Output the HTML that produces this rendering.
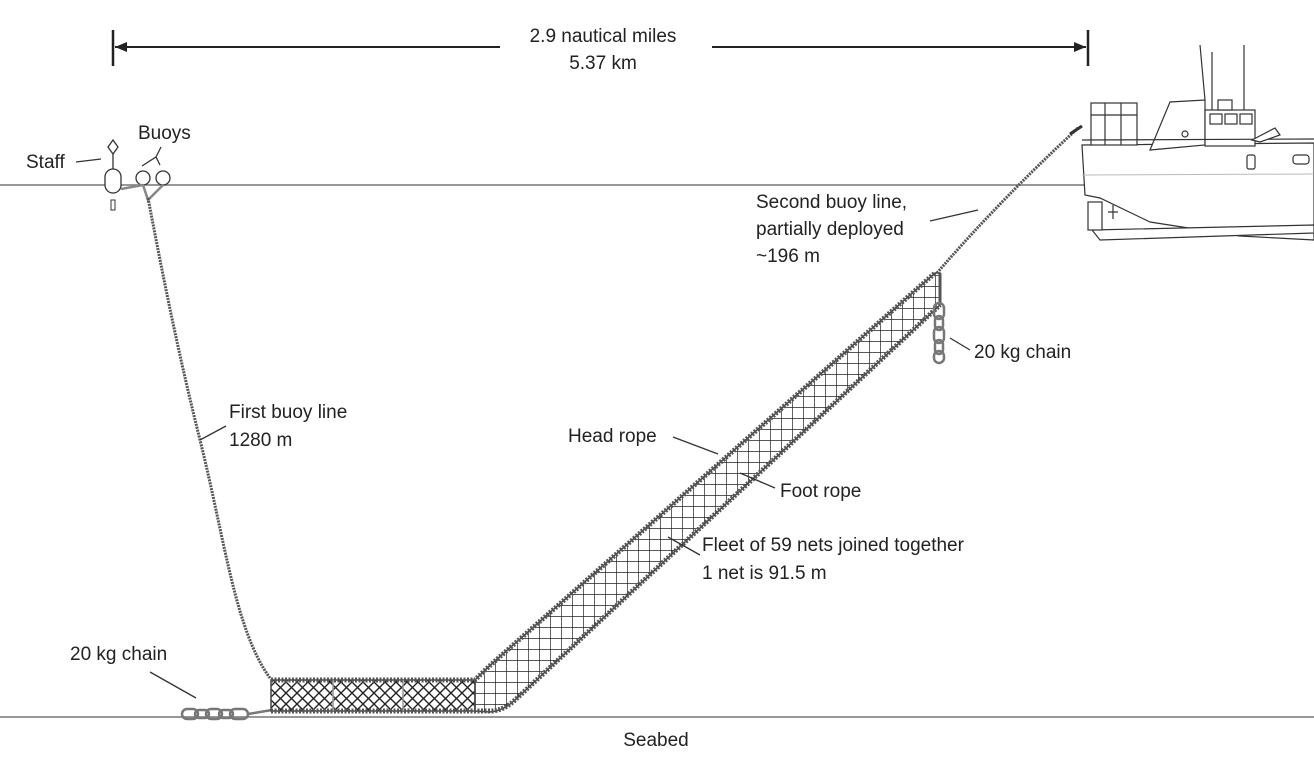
<!DOCTYPE html>
<html><head><meta charset="utf-8"><style>
html,body{margin:0;padding:0;background:#fff;}
svg{display:block}
text{font-family:"Liberation Sans",sans-serif;font-size:19px;fill:#222;}
</style></head><body>
<svg width="1314" height="773" viewBox="0 0 1314 773" xmlns="http://www.w3.org/2000/svg">
<defs>
<pattern id="sq" width="11" height="11" patternUnits="userSpaceOnUse">
<path d="M0 0H11M0 0V11" stroke="#222" stroke-width="1.4" fill="none"/>
</pattern>
<pattern id="dia" width="11" height="11" patternUnits="userSpaceOnUse">
<path d="M0 0L11 11M11 0L0 11" stroke="#222" stroke-width="1.4" fill="none"/>
</pattern>
</defs>
<line x1="0" y1="185" x2="1314" y2="185" stroke="#777" stroke-width="1.5"/>
<line x1="0" y1="717" x2="1314" y2="717" stroke="#777" stroke-width="1.5"/>
<line x1="113" y1="30" x2="113" y2="66" stroke="#222" stroke-width="2.5"/>
<line x1="1088" y1="30" x2="1088" y2="66" stroke="#222" stroke-width="2.5"/>
<line x1="115" y1="47" x2="500" y2="47" stroke="#222" stroke-width="2"/>
<line x1="712" y1="47" x2="1086" y2="47" stroke="#222" stroke-width="2"/>
<path d="M115 47l12-5v10z M1086 47l-12-5v10z" fill="#222"/>
<text x="603" y="42" text-anchor="middle">2.9 nautical miles</text>
<text x="603" y="69" text-anchor="middle">5.37 km</text>
<text x="26" y="168">Staff</text>
<line x1="76" y1="162" x2="101" y2="159" stroke="#333" stroke-width="1.3"/>
<path d="M113 140l-5 7 5 7 5-7z" fill="none" stroke="#333" stroke-width="1.3"/>
<line x1="113" y1="154" x2="113" y2="169" stroke="#333" stroke-width="1.3"/>
<rect x="105" y="169" width="16" height="24" rx="8" fill="#fff" stroke="#333" stroke-width="1.3"/>
<rect x="111" y="200" width="4" height="10" fill="none" stroke="#333"/>
<circle cx="143" cy="178" r="7" fill="#fff" stroke="#333" stroke-width="1.3"/>
<circle cx="163" cy="178" r="7" fill="#fff" stroke="#333" stroke-width="1.3"/>
<text x="138" y="139">Buoys</text>
<path d="M142 166l14-9 4 8M156 157l5-10" fill="none" stroke="#333" stroke-width="1.3"/>
<path d="M121 189L143 185M143 185l5 15 15-15" fill="none" stroke="#888" stroke-width="2.5"/>
<path d="M148 198C160 260 175 340 200 440 C225 540 235 630 270 678" fill="none" stroke="#555" stroke-width="3" stroke-dasharray="2 1"/>
<text x="229" y="418">First buoy line</text>
<text x="229" y="446">1280 m</text>
<line x1="200" y1="440" x2="226" y2="426" stroke="#333" stroke-width="1.3"/>
<g fill="none" stroke="#777" stroke-width="2.5">
<rect x="182" y="709" width="16" height="10" rx="5"/><rect x="195" y="710" width="14" height="8" rx="4"/>
<rect x="206" y="709" width="16" height="10" rx="5"/><rect x="219" y="710" width="14" height="8" rx="4"/>
<rect x="230" y="709" width="18" height="10" rx="5"/>
</g>
<line x1="248" y1="714" x2="272" y2="710" stroke="#777" stroke-width="2.5"/>
<text x="70" y="660">20 kg chain</text>
<line x1="150" y1="672" x2="196" y2="698" stroke="#333" stroke-width="1.3"/>
<rect x="271" y="680" width="204" height="31" fill="url(#dia)" stroke="#444" stroke-width="1.5"/>
<line x1="333" y1="680" x2="333" y2="711" stroke="#999" stroke-width="1.5"/>
<line x1="403" y1="680" x2="403" y2="711" stroke="#999" stroke-width="1.5"/>
<path d="M475 680 Q487 668 495 661 L935 273 L940 273 L940 305 L515 700 Q503 711 490 712 L475 711 Z" fill="url(#sq)" stroke="#444" stroke-width="1.5"/>
<path d="M271 680H475Q487 668 495 661L935 273" fill="none" stroke="#555" stroke-width="5" stroke-dasharray="2 1.5"/>
<path d="M271 711H490Q503 711 515 700L940 305" fill="none" stroke="#555" stroke-width="5" stroke-dasharray="2 1.5"/>
<line x1="940" y1="273" x2="940" y2="305" stroke="#555" stroke-width="3"/>
<g fill="none" stroke="#777" stroke-width="2.5">
<rect x="934" y="303" width="10" height="16" rx="5"/><rect x="935" y="316" width="8" height="14" rx="4"/>
<rect x="934" y="327" width="10" height="16" rx="5"/><rect x="935" y="340" width="8" height="14" rx="4"/>
<rect x="934" y="351" width="10" height="12" rx="5"/>
</g>
<text x="974" y="358">20 kg chain</text>
<line x1="950" y1="338" x2="970" y2="350" stroke="#333" stroke-width="1.3"/>
<path d="M937 273 Q1000 200 1078 128" fill="none" stroke="#555" stroke-width="3" stroke-dasharray="2 1"/>
<text x="756" y="208">Second buoy line,</text>
<text x="756" y="235">partially deployed</text>
<text x="756" y="262">~196 m</text>
<line x1="930" y1="221" x2="978" y2="210" stroke="#333" stroke-width="1.3"/>
<text x="568" y="442">Head rope</text>
<line x1="673" y1="437" x2="718" y2="454" stroke="#333" stroke-width="1.3"/>
<text x="780" y="497">Foot rope</text>
<line x1="740" y1="473" x2="775" y2="488" stroke="#333" stroke-width="1.3"/>
<text x="702" y="551">Fleet of 59 nets joined together</text>
<text x="702" y="579">1 net is 91.5 m</text>
<line x1="668" y1="537" x2="700" y2="555" stroke="#333" stroke-width="1.3"/>
<text x="656" y="746" text-anchor="middle">Seabed</text>
<g fill="#fff" stroke="#333" stroke-width="1.2">
<path d="M1082 145 L1314 143 L1314 240 L1240 236 L1150 222 L1100 198 L1085 195 Z"/>
<path d="M1092 230 L1314 225 L1314 233 L1100 240 Z"/>
<rect x="1088" y="202" width="14" height="28"/>
<rect x="1091" y="103" width="46" height="42"/>
<line x1="1091" y1="115" x2="1137" y2="115"/><line x1="1105" y1="103" x2="1105" y2="145"/><line x1="1121" y1="103" x2="1121" y2="145"/>
<path d="M1150 150 L1170 102 L1205 100 L1205 145 Z"/>
<rect x="1205" y="110" width="50" height="36"/>
<rect x="1210" y="114" width="12" height="10"/><rect x="1225" y="114" width="12" height="10"/><rect x="1240" y="114" width="12" height="10"/>
<rect x="1218" y="100" width="14" height="10"/>
<line x1="1205" y1="100" x2="1200" y2="45"/><line x1="1212" y1="110" x2="1212" y2="52"/><line x1="1244" y1="110" x2="1244" y2="45"/>
<line x1="1082" y1="140" x2="1314" y2="139"/>
<rect x="1247" y="155" width="8" height="14" rx="2"/>
<rect x="1293" y="155" width="16" height="9" rx="3"/>
<circle cx="1185" cy="134" r="3"/>
<path d="M1252 140 L1275 128 L1280 135 L1260 142Z"/>
<path d="M1108 212h10M1113 205v14"/>
</g>
<line x1="1082" y1="175" x2="1314" y2="174" stroke="#bbb"/>
<path d="M1070 134l12-8" stroke="#333" stroke-width="3"/>
</svg>
</body></html>
